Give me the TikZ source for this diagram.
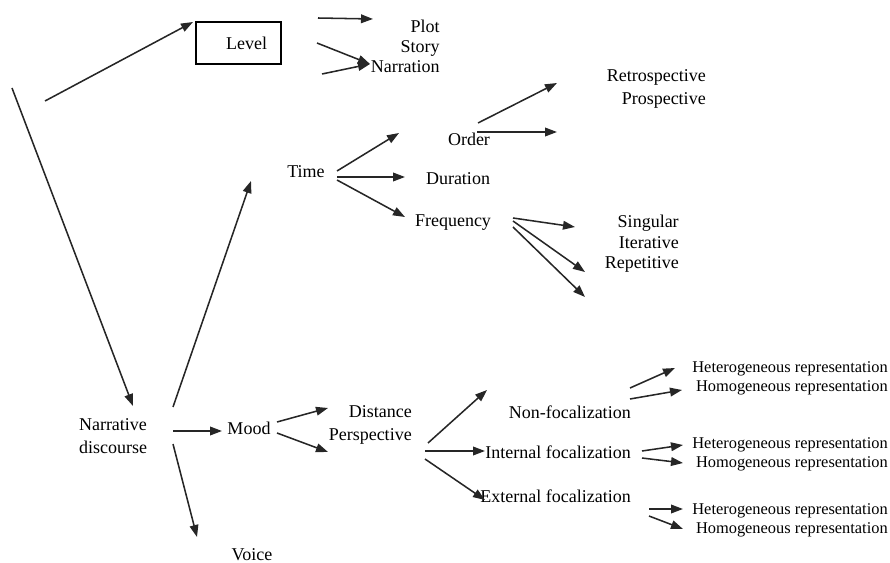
\documentclass[tikz,border=0pt]{standalone}
\usepackage{fontspec}
\setmainfont{Liberation Serif}
\usetikzlibrary{arrows.meta}

\begin{document}
\begin{tikzpicture}[x=0.75pt, y=-0.75pt,
    term/.style={inner sep=0pt, font=\fontsize{13.5}{17.2}\selectfont},
    repr/.style={inner sep=0pt, font=\fontsize{12.3}{14.2}\selectfont},
    pijl/.style={-{Triangle[length=9pt,width=6.5pt]}, line width=1.15pt, black!85}]
    \useasboundingbox (0,0) rectangle (890,563);

    % Teken de begrippen
    \node[term, align=center] (disc) at (113,436) {Narrative\\discourse};
    \node[term, draw, line width=1.15pt, minimum height=31.5pt, text width=42.75pt,
          inner xsep=10.5pt, align=right] (level) at (238.5,43) {Level};
    \node[term, align=right, anchor=east, font=\fontsize{13.5}{15}\selectfont] (plot) at (440,46) {Plot\\Story\\Narration};
    \node[term] (time) at (306,172) {Time};
    \node[term] (order) at (469,139) {Order};
    \node[term] (dur) at (458,179) {Duration};
    \node[term] (freq) at (453,223) {Frequency};
    \node[term, align=right, anchor=east] (retro) at (706,89) {Retrospective\\Prospective};
    \node[term, align=right, anchor=east, font=\fontsize{13.5}{15.4}\selectfont] (sing) at (679,244) {Singular\\Iterative\\Repetitive};
    \node[term] (mood) at (249,428) {Mood};
    \node[term] (voice) at (252,555) {Voice};
    \node[term, align=right, anchor=east] (dist) at (412,425) {Distance\\Perspective};
    \node[term, anchor=east] (nonf) at (631,412) {Non-focalization};
    \node[term, anchor=east] (intf) at (631,452) {Internal focalization};
    \node[term, anchor=east] (extf) at (631,496) {External focalization};
    \node[repr, align=right, anchor=east] (rep1) at (888,378) {Heterogeneous representation\\Homogeneous representation};
    \node[repr, align=right, anchor=east] (rep2) at (888,454) {Heterogeneous representation\\Homogeneous representation};
    \node[repr, align=right, anchor=east] (rep3) at (888,520) {Heterogeneous representation\\Homogeneous representation};

    % Begin- en eindpunten van de pijlen
    \coordinate (d0) at (12,88);    % lijn naar Narrative discourse
    \coordinate (d1) at (133,406);
    \coordinate (l0) at (45,101);   % pijl naar Level
    \coordinate (l1) at (193,22);
    \coordinate (p0) at (318,18);   % pijlen naar Plot, Story, Narration
    \coordinate (p1) at (373,19);
    \coordinate (p2) at (317,43);
    \coordinate (p3) at (322,74);
    \coordinate (p4) at (370,64);
    \coordinate (n0) at (173,407);  % pijlen vanuit Narrative discourse
    \coordinate (n1) at (251,181);
    \coordinate (n2) at (173,431);
    \coordinate (n3) at (222,431);
    \coordinate (n4) at (173,444);
    \coordinate (n5) at (197,537);
    \coordinate (t0) at (337,171);  % pijlen vanuit Time
    \coordinate (t1) at (399,133);
    \coordinate (t2) at (337,177);
    \coordinate (t3) at (405,177);
    \coordinate (t4) at (337,180);
    \coordinate (t5) at (405,217);
    \coordinate (o0) at (478,123);  % pijlen vanuit Order
    \coordinate (o1) at (557,83);
    \coordinate (o2) at (477,132);
    \coordinate (o3) at (557,132);
    \coordinate (f0) at (513,218);  % pijlen vanuit Frequency
    \coordinate (f1) at (575,227);
    \coordinate (f2) at (513,221);
    \coordinate (f3) at (585,272);
    \coordinate (f4) at (513,227);
    \coordinate (f5) at (585,297);
    \coordinate (m0) at (277,422);  % pijlen vanuit Mood
    \coordinate (m1) at (328,408);
    \coordinate (m2) at (277,433);
    \coordinate (m3) at (328,452);
    \coordinate (s0) at (428,443);  % pijlen vanuit Perspective
    \coordinate (s1) at (487,390);
    \coordinate (s2) at (425,451);
    \coordinate (s3) at (485,451);
    \coordinate (s4) at (425,459);
    \coordinate (s5) at (485,500);
    \coordinate (a0) at (630,388);  % pijlen vanuit Non-focalization
    \coordinate (a1) at (675,368);
    \coordinate (a2) at (630,399);
    \coordinate (a3) at (682,390);
    \coordinate (b0) at (642,451);  % pijlen vanuit Internal focalization
    \coordinate (b1) at (683,445);
    \coordinate (b2) at (642,458);
    \coordinate (b3) at (683,463);
    \coordinate (c0) at (649,509);  % pijlen vanuit External focalization
    \coordinate (c1) at (683,509);
    \coordinate (c2) at (649,516);
    \coordinate (c3) at (683,529);

    % Teken de pijlen
    \draw[pijl] (d0) -- (d1);
    \draw[pijl] (l0) -- (l1);
    \draw[pijl] (p0) -- (p1);
    \draw[pijl] (p2) -- (p4);
    \draw[pijl] (p3) -- (p4);
    \draw[pijl] (n0) -- (n1); % naar Time
    \draw[pijl] (n2) -- (n3); % naar Mood
    \draw[pijl] (n4) -- (n5); % naar Voice
    \draw[pijl] (t0) -- (t1);
    \draw[pijl] (t2) -- (t3);
    \draw[pijl] (t4) -- (t5);
    \draw[pijl] (o0) -- (o1);
    \draw[pijl] (o2) -- (o3);
    \draw[pijl] (f0) -- (f1);
    \draw[pijl] (f2) -- (f3);
    \draw[pijl] (f4) -- (f5);
    \draw[pijl] (m0) -- (m1);
    \draw[pijl] (m2) -- (m3);
    \draw[pijl] (s0) -- (s1);
    \draw[pijl] (s2) -- (s3);
    \draw[pijl] (s4) -- (s5);
    \draw[pijl] (a0) -- (a1);
    \draw[pijl] (a2) -- (a3);
    \draw[pijl] (b0) -- (b1);
    \draw[pijl] (b2) -- (b3);
    \draw[pijl] (c0) -- (c1);
    \draw[pijl] (c2) -- (c3);

\end{tikzpicture}
\end{document}
